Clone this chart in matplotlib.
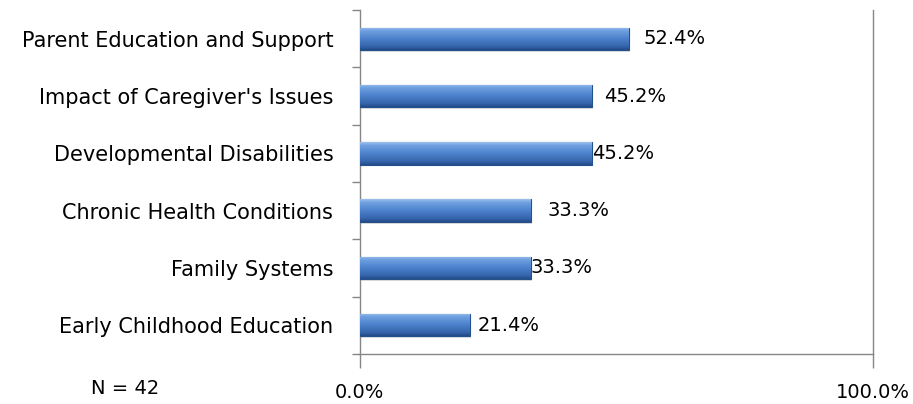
import numpy as np
import matplotlib.pyplot as plt
from matplotlib.colors import LinearSegmentedColormap

categories = ["Parent Education and Support", "Impact of Caregiver's Issues",
              "Developmental Disabilities", "Chronic Health Conditions",
              "Family Systems", "Early Childhood Education"]
values = [52.4, 45.2, 45.2, 33.3, 33.3, 21.4]
value_labels = ["52.4%", "45.2%", "45.2%", "33.3%", "33.3%", "21.4%"]
x_tick_labels = ["0.0%", "100.0%"]
note = "N = 42"

# label offsets in points (Excel placed them unevenly)
label_offsets = [11, 9, 0, 12, 0, 6]

plt.rcParams['font.family'] = ['DejaVu Sans']

fig = plt.figure(figsize=(9.13, 4.04), dpi=100)
ax = fig.add_axes([0.394, 0.124, 0.562, 0.851])

n = len(categories)
ypos = np.arange(n)[::-1]
bar_h = 0.39
bars = ax.barh(ypos, values, height=bar_h, color='#4A7EC4', edgecolor='#24508C', linewidth=0.8, zorder=3)

# shaded bevel look: vertical gradient clipped to each bar
grad = np.linspace(0, 1, 64).reshape(-1, 1)
cmap = LinearSegmentedColormap.from_list(
    'bar', [(0, '#9CC0EC'), (0.15, '#6FA0E0'), (0.5, '#4C82CC'), (0.85, '#3565AC'), (1, '#234C88')])
for b in bars:
    x0, y0 = b.get_x(), b.get_y()
    im = ax.imshow(grad, aspect='auto', cmap=cmap, origin='upper',
                   extent=[x0, x0 + b.get_width(), y0, y0 + b.get_height()], zorder=4)
    im.set_clip_path(b)
    # soft shadow under the bar
    ax.barh(y0 + b.get_height() / 2 - 0.03, b.get_width(), height=bar_h, left=0.25,
            color='#000000', alpha=0.12, linewidth=0, zorder=2)

for b, lab, off in zip(bars, value_labels, label_offsets):
    ax.annotate(lab, (b.get_width(), b.get_y() + b.get_height() / 2),
                xytext=(off, 0), textcoords='offset points',
                ha='left', va='center', fontsize=14, color='black', zorder=5)

ax.set_xlim(0, 100)
ax.set_ylim(-0.5, n - 0.5)

ax.set_yticks(ypos)
ax.set_yticklabels(categories, fontsize=15)
ax.tick_params(axis='y', which='major', length=0, pad=19)
ax.set_yticks(np.arange(-0.5, n, 1), minor=True)
ax.tick_params(axis='y', which='minor', length=6, color='#868686', width=1)

ax.set_xticks([0, 100])
ax.set_xticklabels(x_tick_labels, fontsize=14)
ax.tick_params(axis='x', length=10, color='#868686', width=1, pad=11)

for s in ['left', 'bottom', 'right']:
    ax.spines[s].set_color('#868686')
    ax.spines[s].set_linewidth(1)
ax.spines['top'].set_visible(False)

fig.text(125 / 913, 1 - 389 / 404, note, ha='center', va='center', fontsize=14)

fig.savefig('out.png', dpi=100)
